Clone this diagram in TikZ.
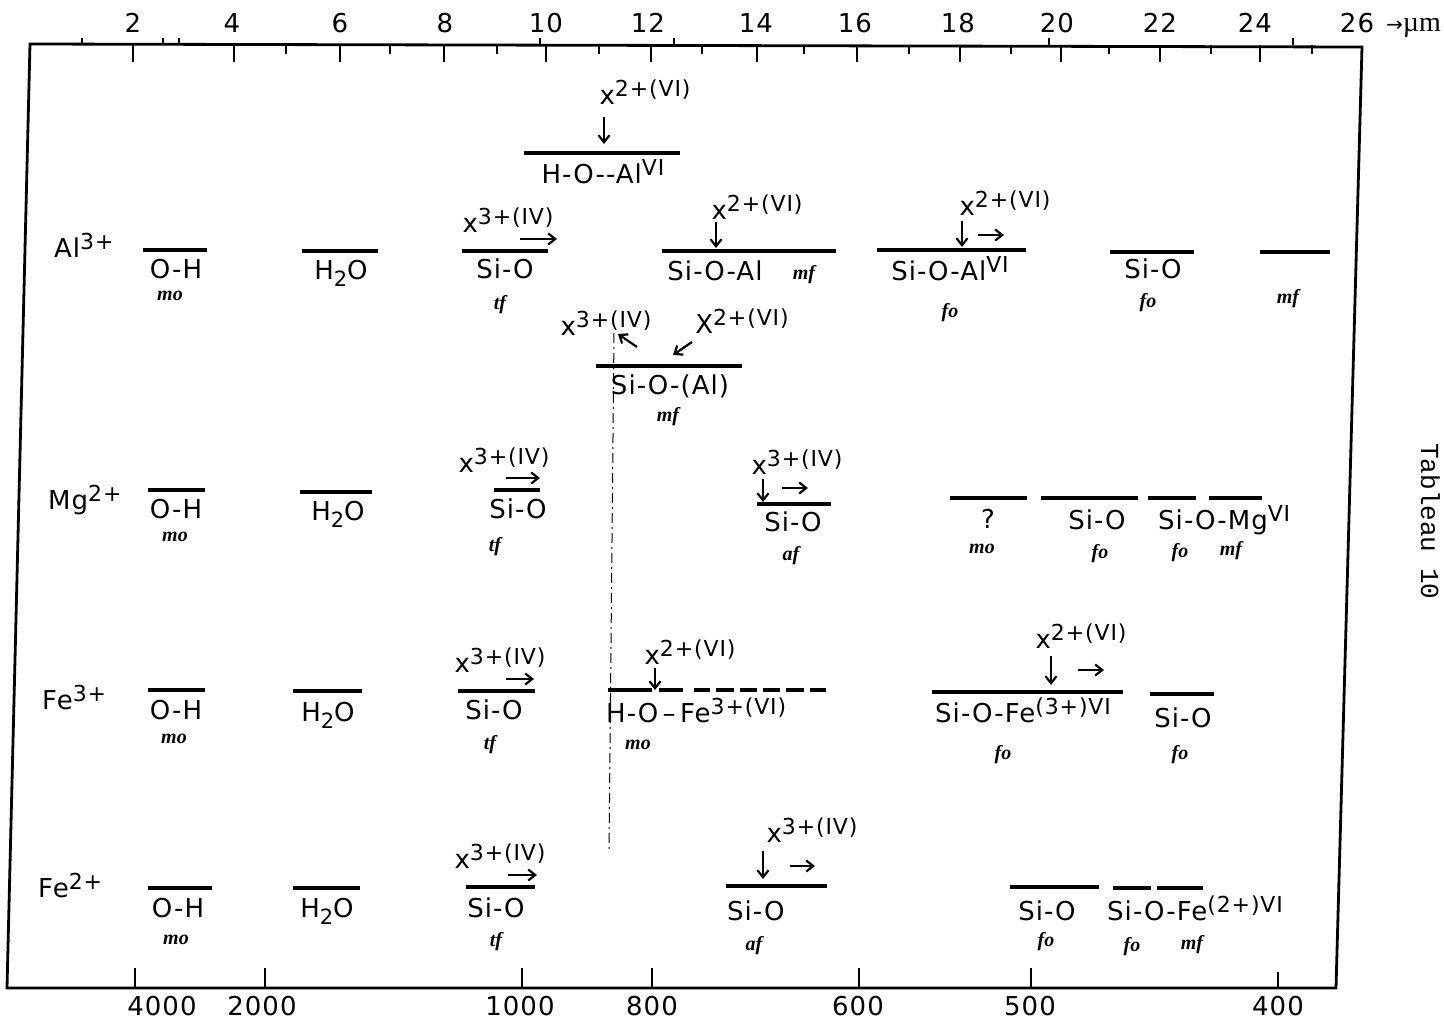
\documentclass[tikz,border=0pt]{standalone}
\usepackage{fontspec}
\setmainfont{DejaVu Sans}[LetterSpace=4]
\newfontfamily\serifit{Liberation Serif}
\newfontfamily\monof{Liberation Mono}
\newfontfamily\dejavu{DejaVu Sans}
\usetikzlibrary{arrows.meta}
\newcommand\upx[1]{\raisebox{0.3em}{\fontsize{22}{22}\selectfont #1}}
\newcommand\dnx[1]{\raisebox{-0.28em}{\fontsize{21}{21}\selectfont #1}}
\newcommand\arrw[5]{\coordinate (#1s) at (#2,#3); \coordinate (#1e) at (#4,#5); \draw[arr] (#1s) -- (#1e);}
\tikzset{
  lbl/.style={font=\fontsize{26}{28}\selectfont, inner sep=0pt, anchor=base},
  lblw/.style={lbl, anchor=base west},
  ital/.style={font=\serifit\bfseries\itshape\fontsize{20}{22}\selectfont, inner sep=0pt, anchor=base},
  num/.style={font=\fontsize{26}{28}\selectfont, inner sep=0pt, anchor=base},
  bar/.style={line width=3.2pt},
  arr/.style={line width=2.2pt, -{Straight Barb[length=7pt,width=11pt]}},
  tickl/.style={line width=2.2pt},
  axisline/.style={line width=2.8pt, line join=miter},
  guide/.style={line width=1pt, dash pattern=on 10pt off 4pt on 2pt off 4pt}
}
\begin{document}
\begin{tikzpicture}[x=1pt,y=-1pt]
\useasboundingbox (0,0) rectangle (1444,1021);
\fill[white] (0,0) rectangle (1444,1021);

% frame (sheared as in the scan)
\coordinate (tl) at (30,44);
\coordinate (tr) at (1362,47);
\coordinate (br) at (1336,988);
\coordinate (bl) at (7,988);
\draw[axisline] (bl) -- (tl) -- (tr) -- (br) -- cycle;

% top axis ticks
\foreach \x in {133,234,340,444,546,651,757,857,960,1061,1160,1260}
  \draw[tickl] (\x,45) -- (\x,62);
\foreach \x in {286,390,497,599,702,804,909,1011,1109,1211,1312}
  \draw[tickl] (\x,45) -- (\x,54);
\foreach \x in {82,163,179,540,674,1049,1293}
  \draw[tickl] (\x,45) -- (\x,38);

% top axis numbers
\node[num] (t2)  at (133,32) {2};
\node[num] (t4)  at (232,32) {4};
\node[num] (t6)  at (340,32) {6};
\node[num] (t8)  at (445,32) {8};
\node[num] (t10) at (546,32) {10};
\node[num] (t12) at (648,32) {12};
\node[num] (t14) at (756,32) {14};
\node[num] (t16) at (855,32) {16};
\node[num] (t18) at (958,32) {18};
\node[num] (t20) at (1057,32) {20};
\node[num] (t22) at (1160,32) {22};
\node[num] (t24) at (1255,32) {24};
\node[num] (t26) at (1357,32) {26};
\node[inner sep=0pt, anchor=base west] (um) at (1386,31) {{\dejavu\fontsize{20}{20}\selectfont →}{\serifit\fontsize{28}{28}\selectfont µm}};

% bottom axis ticks and numbers
\foreach \x in {135,265,522,652,859,1031}
  \draw[tickl] (\x,988) -- (\x,968);
\draw[tickl] (1278,988) -- (1278,972);
\node[num] (b4000) at (162,1015) {4000};
\node[num] (b2000) at (262,1015) {2000};
\node[num] (b1000) at (520,1015) {1000};
\node[num] (b800)  at (652,1015) {800};
\node[num] (b600)  at (858,1015) {600};
\node[num] (b500)  at (1030,1015) {500};
\node[num] (b400)  at (1278,1015) {400};

% side note
\node[font=\monof\fontsize{26}{26}\selectfont, inner sep=0pt, anchor=base west, rotate=-90] (tab) at (1421,443) {Tableau 10};

% vertical guide
\coordinate (g1) at (614,333);
\coordinate (g2) at (609,852);
\draw[guide] (g1) -- (g2);

% ===== Al3+ row =====
\node[lblw] (ionAl) at (54,257) {Al\upx{3+}};
\draw[bar] (143,250) -- (207,250);
\node[lbl] (alOH) at (176,278) {O-H};
\node[ital] (alOHi) at (170,300) {mo};
\draw[bar] (302,251) -- (378,251);
\node[lbl] (alH2O) at (341,279) {H\dnx{2}O};
\node[lbl] (alX1) at (508,232) {x\upx{3+(IV)}};
\arrw{aA}{520}{239}{557}{239}
\draw[bar] (462,251) -- (548,251);
\node[lbl] (alSiO) at (505,278) {Si-O};
\node[ital] (alSiOi) at (500,309) {tf};

\node[lbl] (topX) at (645,104) {x\upx{2+(VI)}};
\arrw{aB}{604}{117}{604}{144}
\draw[bar] (524,153) -- (680,153);
\node[lbl] (topHO) at (603,183) {H-O-{}-Al\upx{VI}};

\node[lbl] (alX2) at (757,219) {x\upx{2+(VI)}};
\arrw{aC}{716}{222}{716}{248}
\draw[bar] (662,251) -- (836,251);
\node[lbl] (alSiOAl) at (715,280) {Si-O-Al};
\node[ital] (alSiOAli) at (804,279) {mf};

\node[lbl] (alX3) at (1005,215) {x\upx{2+(VI)}};
\arrw{aD}{962}{221}{962}{247}
\arrw{aE}{978}{235}{1004}{235}
\draw[bar] (877,250) -- (1026,250);
\node[lbl] (alSiOAlVI) at (950,280) {Si-O-Al\upx{VI}};
\node[ital] (alSiOAlVIi) at (950,317) {fo};

\draw[bar] (1110,252) -- (1194,252);
\node[lbl] (alSiO2) at (1153,278) {Si-O};
\node[ital] (alSiO2i) at (1148,307) {fo};

\draw[bar] (1260,252) -- (1330,252);
\node[ital] (almf) at (1288,303) {mf};

% ===== sub row =====
\node[lbl] (sX3) at (606,335) {x\upx{3+(IV)}};
\node[lbl] (sX2) at (742,333) {X\upx{2+(VI)}};
\arrw{aF}{637}{347}{618}{334}
\arrw{aG}{692}{342}{673}{355}
\draw[bar] (596,366) -- (742,366);
\node[lbl] (sSiOAl) at (670,394) {Si-O-(Al)};
\node[ital] (sSiOAli) at (668,421) {mf};

% ===== Mg2+ row =====
\node[lblw] (ionMg) at (48,509) {Mg\upx{2+}};
\draw[bar] (148,490) -- (205,490);
\node[lbl] (mgOH) at (176,518) {O-H};
\node[ital] (mgOHi) at (175,541) {mo};
\draw[bar] (300,492) -- (372,492);
\node[lbl] (mgH2O) at (338,520) {H\dnx{2}O};
\node[lbl] (mgX1) at (504,472) {x\upx{3+(IV)}};
\arrw{aH}{506}{478}{540}{478}
\draw[bar] (494,490) -- (540,490);
\node[lbl] (mgSiO) at (518,518) {Si-O};
\node[ital] (mgSiOi) at (495,551) {tf};

\node[lbl] (mgX2) at (797,474) {x\upx{3+(IV)}};
\arrw{aI}{763}{479}{763}{502}
\arrw{aJ}{782}{488}{808}{488}
\draw[bar] (757,504) -- (831,504);
\node[lbl] (mgSiO2) at (793,531) {Si-O};
\node[ital] (mgSiO2i) at (791,560) {af};

\draw[bar] (950,498) -- (1027,498);
\node[lbl] (mgQ) at (988,528) {?};
\node[ital] (mgQi) at (982,553) {mo};
\draw[bar] (1041,498) -- (1138,498);
\node[lbl] (mgSiO3) at (1097,529) {Si-O};
\node[ital] (mgSiO3i) at (1100,558) {fo};
\draw[bar] (1148,498) -- (1196,498);
\draw[bar] (1209,498) -- (1262,498);
\node[lblw] (mgSiOMg) at (1158,529) {Si-O-Mg\upx{VI}};
\node[ital] (mgfo) at (1180,557) {fo};
\node[ital] (mgmf) at (1231,555) {mf};

% ===== Fe3+ row =====
\node[lblw] (ionFe3) at (42,709) {Fe\upx{3+}};
\draw[bar] (148,690) -- (205,690);
\node[lbl] (f3OH) at (176,719) {O-H};
\node[ital] (f3OHi) at (174,743) {mo};
\draw[bar] (293,691) -- (362,691);
\node[lbl] (f3H2O) at (328,721) {H\dnx{2}O};
\node[lbl] (f3X1) at (500,672) {x\upx{3+(IV)}};
\arrw{aK}{506}{679}{534}{679}
\draw[bar] (458,691) -- (535,691);
\node[lbl] (f3SiO) at (494,719) {Si-O};
\node[ital] (f3SiOi) at (490,749) {tf};

\node[lbl] (f3X2) at (690,664) {x\upx{2+(VI)}};
\arrw{aL}{655}{668}{655}{690}
\draw[bar] (608,690) -- (652,690);
\draw[bar] (659,690) -- (683,690);
\foreach \a/\b in {694/710,716/734,740/757,763/780,786/804,810/826}
  \draw[bar] (\a,690) -- (\b,690);
\node[lblw] (f3HOFe) at (606,722) {H-O\,–\,Fe\upx{3+(VI)}};
\node[ital] (f3HOFei) at (638,749) {mo};

\node[lbl] (f3X3) at (1081,648) {x\upx{2+(VI)}};
\arrw{aM}{1051}{656}{1051}{685}
\arrw{aN}{1078}{670}{1104}{670}
\draw[bar] (932,692) -- (1123,692);
\node[lblw] (f3SiOFe) at (935,722) {Si-O-Fe\upx{(3+)VI}};
\node[ital] (f3SiOFei) at (1003,759) {fo};
\draw[bar] (1150,694) -- (1214,694);
\node[lbl] (f3SiO2) at (1183,727) {Si-O};
\node[ital] (f3SiO2i) at (1180,759) {fo};

% ===== Fe2+ row =====
\node[lblw] (ionFe2) at (38,897) {Fe\upx{2+}};
\draw[bar] (148,888) -- (212,888);
\node[lbl] (f2OH) at (178,917) {O-H};
\node[ital] (f2OHi) at (176,944) {mo};
\draw[bar] (293,888) -- (360,888);
\node[lbl] (f2H2O) at (327,917) {H\dnx{2}O};
\node[lbl] (f2X1) at (500,868) {x\upx{3+(IV)}};
\arrw{aO}{508}{875}{537}{875}
\draw[bar] (466,887) -- (535,887);
\node[lbl] (f2SiO) at (496,917) {Si-O};
\node[ital] (f2SiOi) at (496,946) {tf};

\node[lbl] (f2X2) at (812,842) {x\upx{3+(IV)}};
\arrw{aP}{763}{851}{763}{879}
\arrw{aQ}{790}{866}{815}{866}
\draw[bar] (726,886) -- (827,886);
\node[lblw] (f2SiO2) at (727,920) {Si-O};
\node[ital] (f2SiO2i) at (754,950) {af};

\draw[bar] (1010,887) -- (1099,887);
\node[lbl] (f2SiO3) at (1047,920) {Si-O};
\node[ital] (f2SiO3i) at (1046,946) {fo};
\draw[bar] (1113,888) -- (1151,888);
\draw[bar] (1157,888) -- (1203,888);
\node[lblw] (f2SiOFe) at (1107,920) {Si-O-Fe\upx{(2+)VI}};
\node[ital] (f2fo) at (1132,951) {fo};
\node[ital] (f2mf) at (1192,949) {mf};
\end{tikzpicture}
\end{document}
